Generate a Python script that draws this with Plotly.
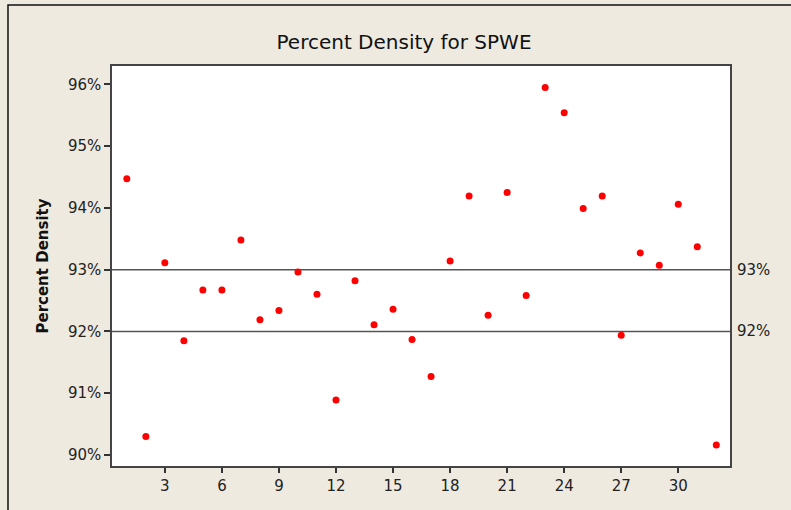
import plotly.graph_objects as go

# Data
observation = list(range(1, 33))
percent_density = [94.47, 90.30, 93.11, 91.85, 92.67, 92.67, 93.48, 92.19,
                   92.34, 92.96, 92.60, 90.89, 92.82, 92.11, 92.36, 91.87,
                   91.27, 93.14, 94.19, 92.26, 94.25, 92.58, 95.95, 95.54,
                   93.99, 94.19, 91.94, 93.27, 93.07, 94.06, 93.37, 90.16]
ref_lines = [93, 92]
ref_labels = ["93%", "92%"]
x_ticks = [3, 6, 9, 12, 15, 18, 21, 24, 27, 30]
y_ticks = [90, 91, 92, 93, 94, 95, 96]
y_tick_labels = ["90%", "91%", "92%", "93%", "94%", "95%", "96%"]

BG = "#EEEAE0"
FONT = "DejaVu Sans"

fig = go.Figure()
fig.add_trace(go.Scatter(
    x=observation, y=percent_density, mode="markers",
    marker=dict(color="#FF0000", size=7, line=dict(width=0)),
    showlegend=False, hoverinfo="x+y"))

shapes = []
annotations = []
for v, lab in zip(ref_lines, ref_labels):
    shapes.append(dict(type="line", xref="paper", x0=0, x1=1, yref="y", y0=v, y1=v,
                       line=dict(color="#555555", width=1.5), layer="below"))
    annotations.append(dict(text=lab, xref="paper", x=1, xanchor="left", xshift=5,
                            yref="y", y=v, yanchor="middle", showarrow=False,
                            font=dict(family=FONT, size=15, color="#222222")))

# outer frame (top and left edges visible)
shapes.append(dict(type="rect", xref="paper", yref="paper", x0=-0.1683, x1=1.3,
                   y0=-0.3, y1=1.1525, line=dict(color="#111111", width=1.5),
                   fillcolor="rgba(0,0,0,0)", layer="above"))

fig.update_layout(
    width=791, height=510,
    paper_bgcolor=BG, plot_bgcolor="white",
    margin=dict(l=112, r=61, t=66, b=44),
    title=dict(text="Percent Density for SPWE", x=404 / 791, xanchor="center",
               xref="container", y=1 - 42 / 510, yanchor="middle",
               font=dict(family=FONT, size=20, color="#111111")),
    font=dict(family=FONT, size=15, color="#222222"),
    shapes=shapes, annotations=annotations,
    xaxis=dict(range=[0.22, 32.72], tickmode="array", tickvals=x_ticks,
               ticks="outside", ticklen=5, tickwidth=1.5, tickcolor="#333333",
               showgrid=False, zeroline=False, showline=True, linecolor="#444444",
               linewidth=1.5, mirror=True, tickfont=dict(family=FONT, size=15)),
    yaxis=dict(range=[89.822, 96.296], tickmode="array", tickvals=y_ticks,
               ticktext=y_tick_labels,
               ticks="outside", ticklen=6, tickwidth=1.5, tickcolor="#333333",
               showgrid=False, zeroline=False, showline=True, linecolor="#444444",
               linewidth=1.5, mirror=True, tickfont=dict(family=FONT, size=15),
               title=dict(text="<b>Percent Density</b>", standoff=16,
                          font=dict(family=FONT, size=15, color="#111111"))),
)

fig.write_html(
    "out.html",
    config={"displayModeBar": False},
    post_script="document.body.style.margin='0';document.body.style.background='#EEEAE0';document.body.style.overflow='hidden';",
)
